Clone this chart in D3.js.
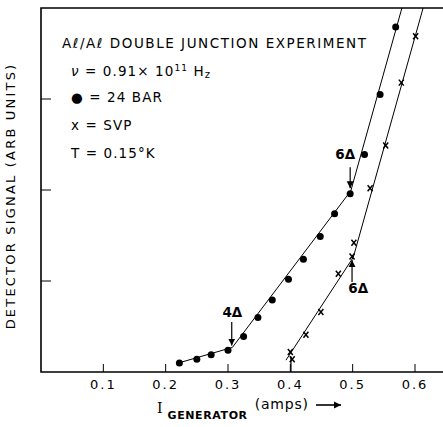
<!DOCTYPE html>
<html>
<head>
<meta charset="utf-8">
<script src="https://cdn.jsdelivr.net/npm/d3@7"></script>
<style>
  body { margin: 0; background: #fff; }
  svg { display: block; font-family: "DejaVu Sans", sans-serif; }
</style>
</head>
<body>
<svg id="chart" width="443" height="427"></svg>
<script>
// points: [I generator (amps), detector signal (arb)]
const bar24 = [
  [0.222, 0.10], [0.250, 0.14], [0.273, 0.19], [0.300, 0.24],
  [0.325, 0.39], [0.348, 0.60], [0.371, 0.79], [0.397, 1.02],
  [0.421, 1.24], [0.448, 1.49], [0.471, 1.74], [0.496, 1.96],
  [0.519, 2.39], [0.544, 3.05], [0.569, 3.79]
];
const svp = [
  [0.400, 0.22], [0.403, 0.14], [0.425, 0.41], [0.449, 0.66],
  [0.477, 1.08], [0.499, 1.27], [0.502, 1.42], [0.528, 2.02],
  [0.553, 2.49], [0.578, 3.18], [0.601, 3.69]
];
// hand drawn straight segments through the points
const barFit = [[0.221, 0.10], [0.307, 0.27], [0.497, 1.99], [0.579, 4.0]];
const svpFit = [[0.393, 0.13], [0.501, 1.26], [0.613, 4.0]];

const xTicks = [0.1, 0.2, 0.3, 0.4, 0.5, 0.6];
const yTicks = [1, 2, 3];

// threshold arrows: label, x, arrow from y0 to y1, label pos
const marks = [
  {label: "4Δ", x: 0.306, y0: 0.55, y1: 0.29, tx: 0.307, ty: 0.65},
  {label: "6Δ", x: 0.496, y0: 2.25, y1: 2.02, tx: 0.488, ty: 2.38},
  {label: "6Δ", x: 0.499, y0: 0.99, y1: 1.23, tx: 0.509, ty: 0.91}
];

const svg = d3.select("#chart");

let x = d3.scaleLinear().domain([0, 0.6]).range([41, 415]);
let y = d3.scaleLinear().domain([0, 4]).range([372, 8]);

svg.append("defs").append("marker")
  .attr("id", "head")
  .attr("viewBox", "0 0 10 10")
  .attr("refX", 10).attr("refY", 5)
  .attr("markerWidth", 7).attr("markerHeight", 9)
  .attr("markerUnits", "userSpaceOnUse")
  .attr("orient", "auto")
  .append("path").attr("d", "M0,0 L10,5 L0,10 Z").attr("fill", "#000");

// frame: left axis, top edge, bottom axis (no right edge)
svg.append("path")
  .attr("d", `M443,${y(4)} H${x(0)} V${y(0)} H443`)
  .attr("fill", "none").attr("stroke", "#000").attr("stroke-width", 1.6);

svg.selectAll(".xt").data(xTicks).join("line")
  .attr("x1", d => x(d)).attr("x2", d => x(d))
  .attr("y1", y(0)).attr("y2", y(0) - 8)
  .attr("stroke", "#000").attr("stroke-width", 1);

svg.selectAll(".xl").data(xTicks).join("text")
  .attr("x", d => x(d)).attr("y", y(0) + 17)
  .attr("text-anchor", "middle")
  .attr("font-size", 13).attr("letter-spacing", 2)
  .text(d => d3.format(".1f")(d));

svg.selectAll(".yt").data(yTicks).join("line")
  .attr("x1", x(0)).attr("x2", x(0) + 10)
  .attr("y1", d => y(d)).attr("y2", d => y(d))
  .attr("stroke", "#000").attr("stroke-width", 1);

let line = d3.line().x(d => x(d[0])).y(d => y(d[1]));

svg.append("path").attr("d", line(barFit))
  .attr("fill", "none").attr("stroke", "#000").attr("stroke-width", 1);
svg.append("path").attr("d", line(svpFit))
  .attr("fill", "none").attr("stroke", "#000").attr("stroke-width", 1);

svg.selectAll(".dot").data(bar24).join("circle")
  .attr("cx", d => x(d[0])).attr("cy", d => y(d[1]))
  .attr("r", 3.5).attr("fill", "#000");

svg.selectAll(".cross").data(svp).join("path")
  .attr("transform", d => `translate(${x(d[0])},${y(d[1])})`)
  .attr("d", "M-2.5,-3 L2.5,3 M2.5,-3 L-2.5,3")
  .attr("stroke", "#000").attr("stroke-width", 1.5);

// small marker under the first SVP point
svg.append("line")
  .attr("x1", x(0.401)).attr("x2", x(0.401))
  .attr("y1", y(0)).attr("y2", y(0.17))
  .attr("stroke", "#000").attr("stroke-width", 1.2);

svg.selectAll(".arr").data(marks).join("line")
  .attr("x1", d => x(d.x)).attr("x2", d => x(d.x))
  .attr("y1", d => y(d.y0)).attr("y2", d => y(d.y1))
  .attr("stroke", "#000").attr("stroke-width", 1.2)
  .attr("marker-end", "url(#head)");

svg.selectAll(".lab").data(marks).join("text")
  .attr("x", d => x(d.tx)).attr("y", d => y(d.ty))
  .attr("text-anchor", "middle").attr("dominant-baseline", "middle")
  .attr("font-size", 13.5).attr("font-weight", "bold")
  .text(d => d.label);

// legend / info block
let info = svg.append("g").attr("font-size", 13.5).attr("letter-spacing", 1.1);
info.append("text").attr("x", 62).attr("y", 48).attr("letter-spacing", 1.55)
  .text("Aℓ/Aℓ DOUBLE JUNCTION EXPERIMENT");
let nu = info.append("text").attr("x", 71).attr("y", 76);
nu.append("tspan").attr("font-style", "italic").text("ν");
nu.append("tspan").text(" = 0.91× 10");
nu.append("tspan").attr("font-size", 9).attr("dy", -5).text("11");
nu.append("tspan").attr("dy", 5).text(" H");
nu.append("tspan").attr("font-size", 10).attr("dy", 2).text("z");
info.append("text").attr("x", 71).attr("y", 102).text("● = 24 BAR");
info.append("text").attr("x", 71).attr("y", 130).text("x = SVP");
info.append("text").attr("x", 71).attr("y", 158).text("T = 0.15°K");

// axis titles
svg.append("text")
  .attr("transform", "translate(15,196) rotate(-90)")
  .attr("text-anchor", "middle")
  .attr("font-size", 13).attr("letter-spacing", 2.2)
  .text("DETECTOR SIGNAL (ARB UNITS)");

let xt = svg.append("text").attr("x", 157).attr("y", 413);
xt.append("tspan").attr("font-size", 14).attr("font-family", "DejaVu Serif").text("I");
xt.append("tspan").attr("font-size", 11).attr("font-weight", "bold").attr("dx", 5).attr("dy", 6)
  .attr("letter-spacing", 0.6).text("GENERATOR");
xt.append("tspan").attr("font-size", 14).attr("dx", 7).attr("dy", -10)
  .attr("letter-spacing", 0.8).text("(amps)");

svg.append("line")
  .attr("x1", 316).attr("x2", 341).attr("y1", 405).attr("y2", 405)
  .attr("stroke", "#000").attr("stroke-width", 1.6)
  .attr("marker-end", "url(#head)");
</script>
</body>
</html>
